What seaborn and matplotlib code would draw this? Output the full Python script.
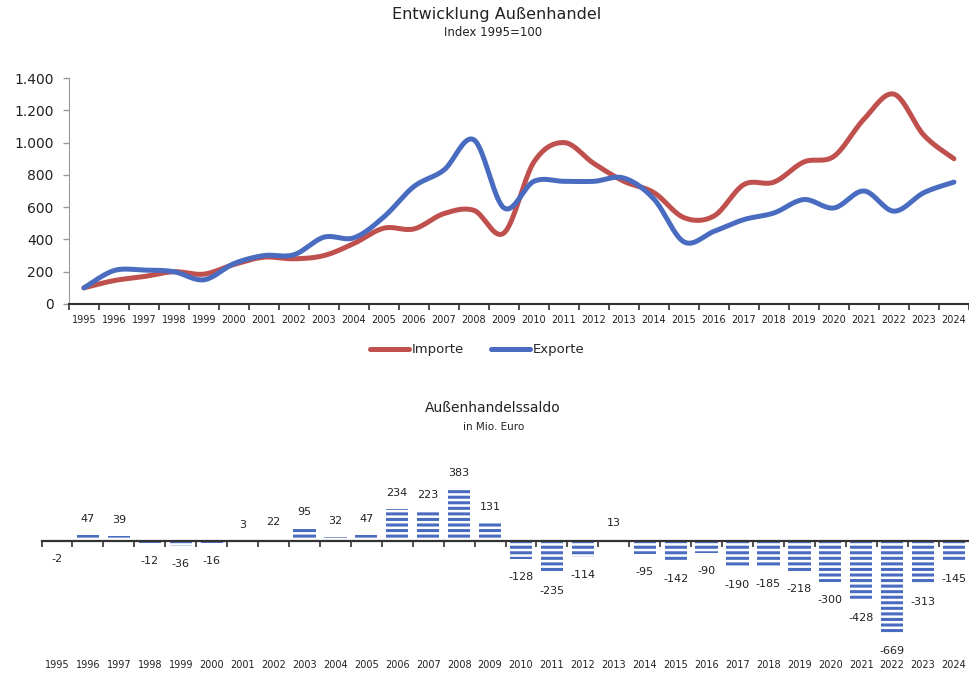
import numpy as np
import pandas as pd
import matplotlib
matplotlib.use('Agg')
import matplotlib.pyplot as plt
import seaborn as sns
from matplotlib.lines import Line2D

# Daten
years = list(range(1995, 2025))
importe = [100, 145, 170, 200, 185, 245, 290, 280, 300, 375, 470, 465, 560, 580, 440,
           880, 1000, 870, 760, 690, 535, 545, 740, 755, 880, 915, 1145, 1300, 1045, 900]
exporte = [100, 207, 210, 200, 150, 250, 300, 305, 414, 410, 540, 728, 830, 1017, 595,
           760, 760, 760, 780, 650, 385, 450, 523, 564, 647, 595, 700, 575, 690, 755]
saldo = [-2, 47, 39, -12, -36, -16, 3, 22, 95, 32, 47, 234, 223, 383, 131,
         -128, -235, -114, 13, -95, -142, -90, -190, -185, -218, -300, -428, -669, -313, -145]

ROT = '#C0504D'
BLAU = '#4A6CC0'
TEXT = '#222222'


def glaetten(werte, n=20):
    # Excel-artige Glaettung (Bezier mit Catmull-Rom Kontrollpunkten)
    p = np.column_stack([np.arange(len(werte)), np.asarray(werte, float)])
    p = np.vstack([p[0], p, p[-1]])
    t = np.linspace(0, 1, n, endpoint=False)[:, None]
    out = []
    for i in range(1, len(p) - 2):
        p0, p1, p2, p3 = p[i - 1], p[i], p[i + 1], p[i + 2]
        c1 = p1 + (p2 - p0) / 6
        c2 = p2 - (p3 - p1) / 6
        seg = ((1 - t) ** 3) * p1 + 3 * ((1 - t) ** 2) * t * c1 + 3 * (1 - t) * t ** 2 * c2 + t ** 3 * p2
        out.append(seg)
    out.append(p[-2][None, :])
    return np.vstack(out)


sns.set_style('white')
plt.rcParams['font.family'] = ['DejaVu Sans']
plt.rcParams['hatch.linewidth'] = 2.2

fig = plt.figure(figsize=(9.7, 6.73), dpi=100)

# ---------- Oberes Diagramm ----------
ax1 = fig.add_axes([0.0711, 0.5483, 0.9278, 0.3358])
frames = []
for name, werte in [('Importe', importe), ('Exporte', exporte)]:
    kurve = glaetten(werte)
    frames.append(pd.DataFrame({'x': kurve[:, 0], 'y': kurve[:, 1], 'Reihe': name}))
df_lin = pd.concat(frames, ignore_index=True)

sns.lineplot(data=df_lin, x='x', y='y', hue='Reihe', palette={'Importe': ROT, 'Exporte': BLAU},
             linewidth=3.6, sort=False, estimator=None, legend=False, ax=ax1)

ax1.set_xlim(-0.5, 29.5)
ax1.set_ylim(0, 1400)
ax1.set_yticks(range(0, 1401, 200))
ax1.set_yticklabels([f"{v:,}".replace(',', '.') for v in range(0, 1401, 200)], fontsize=10, color=TEXT)
ax1.set_xticks(range(len(years)))
ax1.set_xticklabels([str(y) for y in years], fontsize=7, color=TEXT)
ax1.set_xticks(np.arange(-0.5, 30, 1), minor=True)
ax1.tick_params(axis='x', which='major', length=0, pad=8)
ax1.tick_params(axis='x', which='minor', length=4, width=1.2, color='#333333', bottom=True)
ax1.tick_params(axis='y', length=4, width=1, color='#999999', left=True, pad=7)
ax1.set_xlabel('')
ax1.set_ylabel('')
for s in ['top', 'right']:
    ax1.spines[s].set_visible(False)
ax1.spines['left'].set_color('#999999')
ax1.spines['bottom'].set_color('#333333')
ax1.spines['bottom'].set_linewidth(1.5)

handles = [Line2D([], [], color=ROT, lw=3.6), Line2D([], [], color=BLAU, lw=3.6)]
ax1.legend(handles, ['Importe', 'Exporte'], loc='center', bbox_to_anchor=(0.492, 0.48),
           bbox_transform=fig.transFigure, ncol=2, frameon=False, fontsize=9.5,
           handlelength=3.0, handletextpad=0.2, columnspacing=2.0)

fig.text(497 / 970, 1 - 15 / 673, 'Entwicklung Außenhandel', ha='center', va='center',
         fontsize=11.5, color=TEXT)
fig.text(493 / 970, 1 - 33 / 673, 'Index 1995=100', ha='center', va='center',
         fontsize=8.5, color=TEXT)

# ---------- Unteres Diagramm ----------
ax2 = fig.add_axes([0.0428, 0.0333, 0.9567, 0.2645])
df_bar = pd.DataFrame({'Jahr': [str(y) for y in years], 'Saldo': saldo})
sns.barplot(data=df_bar, x='Jahr', y='Saldo', color='white', saturation=1, width=0.72,
            edgecolor=BLAU, linewidth=0, hatch='---', ax=ax2)

ax2.set_xlim(-0.5, 29.5)
ax2.set_ylim(-800, 500)
ax2.set_xlabel('')
ax2.set_ylabel('')
ax2.set_yticks([])
for s in ['top', 'right', 'left']:
    ax2.spines[s].set_visible(False)
ax2.spines['bottom'].set_position(('data', 0))
ax2.spines['bottom'].set_color('#333333')
ax2.spines['bottom'].set_linewidth(1.6)
ax2.set_xticks(np.arange(-0.5, 30, 1), minor=True)
ax2.tick_params(axis='x', which='major', length=0, labelbottom=False)
ax2.tick_params(axis='x', which='minor', length=4, width=1.2, color='#333333', bottom=True)

sec = ax2.secondary_xaxis('bottom')
sec.set_xticks(range(len(years)))
sec.set_xticklabels([str(y) for y in years], fontsize=7, color=TEXT)
sec.tick_params(length=0, pad=7)
sec.spines['bottom'].set_visible(False)

for i, v in enumerate(saldo):
    ax2.annotate(str(v), (i, v), xytext=(0, 11.5 if v >= 0 else -13), textcoords='offset points',
                 ha='center', va='center', fontsize=8, color=TEXT)

fig.text(493 / 970, 1 - 408 / 673, 'Außenhandelssaldo', ha='center', va='center',
         fontsize=10, color=TEXT)
fig.text(494 / 970, 1 - 427 / 673, 'in Mio. Euro', ha='center', va='center',
         fontsize=7.5, color=TEXT)

fig.savefig('out.png', dpi=100)
